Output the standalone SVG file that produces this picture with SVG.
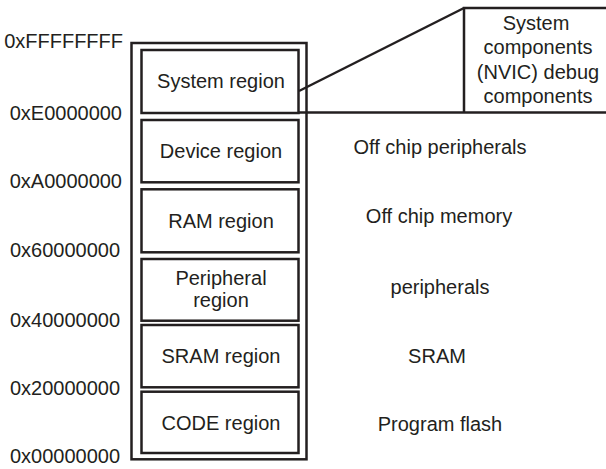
<svg xmlns="http://www.w3.org/2000/svg" width="606" height="469" viewBox="0 0 606 469">
<style>
.box{fill:#fff;stroke:#231f20;stroke-width:2.5}
.ln{fill:none;stroke:#231f20;stroke-width:2.5}
text{font-family:"Liberation Sans",Arial,sans-serif;font-size:20px;fill:#231f20}
.c{text-anchor:middle}
.a{text-anchor:end}
</style>
<rect width="606" height="469" fill="#fff"/>
<g id="memory-map">
<rect class="box" x="131.5" y="43" width="175" height="416.3"/>
</g>
<g id="system-region"><rect class="box" x="141.5" y="50" width="157" height="63"/><text class="c" x="221" y="88">System region</text></g>
<g id="device-region"><rect class="box" x="141.5" y="120" width="157" height="62.3"/><text class="c" x="221" y="158">Device region</text></g>
<g id="ram-region"><rect class="box" x="141.5" y="189.3" width="157" height="63"/><text class="c" x="221" y="227.5">RAM region</text></g>
<g id="peripheral-region"><rect class="box" x="141.5" y="259" width="157" height="61.7"/><text class="c" x="221" y="285">Peripheral</text><text class="c" x="221" y="307">region</text></g>
<g id="sram-region"><rect class="box" x="141.5" y="325" width="157" height="62.3"/><text class="c" x="221" y="363">SRAM region</text></g>
<g id="code-region"><rect class="box" x="141.5" y="391.7" width="157" height="61.3"/><text class="c" x="221" y="429.5">CODE region</text></g>
<g id="addresses">
<text class="a" x="123" y="48">0xFFFFFFFF</text>
<text class="a" x="122" y="120">0xE0000000</text>
<text class="a" x="122" y="188">0xA0000000</text>
<text class="a" x="120" y="257">0x60000000</text>
<text class="a" x="120" y="327">0x40000000</text>
<text class="a" x="120" y="395">0x20000000</text>
<text class="a" x="120" y="463">0x00000000</text>
</g>
<g id="system-components">
<path class="ln" d="M464,112.5 V8 H606"/>
<text class="c" x="536" y="30">System</text>
<text class="c" x="538" y="54">components</text>
<text class="c" x="538" y="79">(NVIC) debug</text>
<text class="c" x="538" y="103">components</text>
</g>
<g id="descriptions">
<text class="c" x="440" y="154">Off chip peripherals</text>
<text class="c" x="439" y="223">Off chip memory</text>
<text class="c" x="440" y="294">peripherals</text>
<text class="c" x="437" y="363">SRAM</text>
<text class="c" x="440" y="431">Program flash</text>
</g>
<g id="connectors">
<line class="ln" x1="299" y1="91" x2="464" y2="8"/>
<line class="ln" x1="299" y1="112.5" x2="606" y2="112.5"/>
</g>
</svg>
